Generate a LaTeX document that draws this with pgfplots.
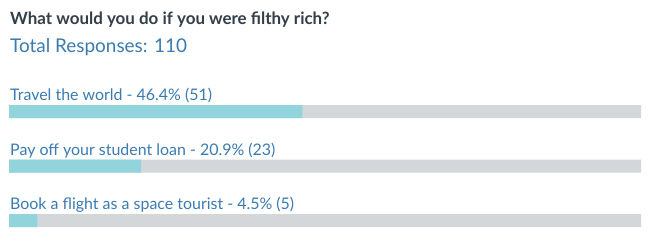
\documentclass[border=0pt]{standalone}
\usepackage{pgfplots}
\pgfplotsset{compat=1.18}
\usepackage{fontspec}
\setmainfont{Lato}
\definecolor{teal1}{HTML}{91D4DB}
\definecolor{gray1}{HTML}{D4D7DA}
\definecolor{blue1}{HTML}{3A7BB2}
\definecolor{dark1}{HTML}{333E48}
\begin{document}
\begin{tikzpicture}[x=1bp,y=1bp]
\useasboundingbox (0,0) rectangle (652,245);
\fill[white] (0,0) rectangle (652,245);
\begin{axis}[
  at={(0,0)}, anchor=south west,
  width=652bp, height=245bp, scale only axis,
  xmin=-1.4241, xmax=101.741,
  ymin=-2.046, ymax=2.4495, y dir=reverse,
  axis lines=none, ticks=none,
  xbar, bar width=13bp, bar shift=0pt,
  clip=false,
]
\addplot[draw=none, fill=gray1] coordinates {(100,0) (100,1) (100,2)};
\addplot[draw=none, fill=teal1] coordinates {(46.4,0) (20.9,1) (4.5,2)};
\end{axis}
\node[anchor=base west, inner sep=0pt, text=dark1, font=\fontsize{17}{20}\selectfont\bfseries] at (10,245-24) {What would you do if you were filthy rich?};
\node[anchor=base west, inner sep=0pt, text=blue1, font=\fontsize{19}{22}\selectfont] at (10,245-52) {Total Responses: 110};
\node[anchor=base west, inner sep=0pt, text=blue1, font=\fontsize{16}{19}\selectfont] at (10,245-100.5) {Travel the world - 46.4\% (51)};
\node[anchor=base west, inner sep=0pt, text=blue1, font=\fontsize{16}{19}\selectfont] at (10,245-155) {Pay off your student loan - 20.9\% (23)};
\node[anchor=base west, inner sep=0pt, text=blue1, font=\fontsize{16}{19}\selectfont] at (10,245-209.5) {Book a flight as a space tourist - 4.5\% (5)};
\end{tikzpicture}
\end{document}
